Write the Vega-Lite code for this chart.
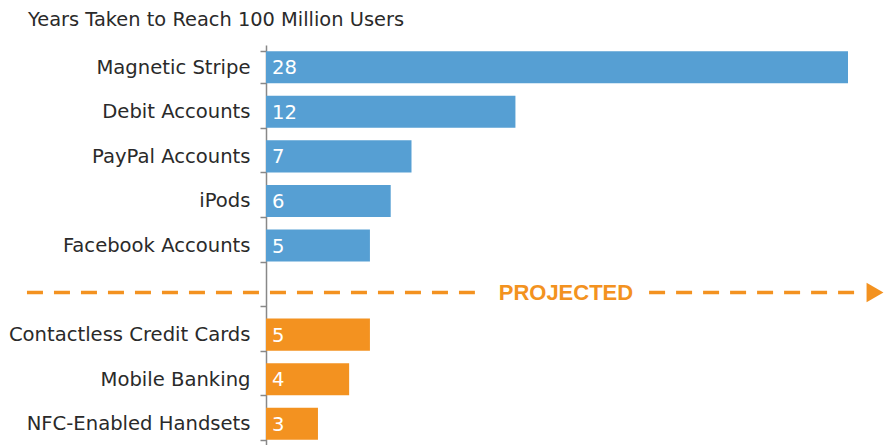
{
  "$schema": "https://vega.github.io/schema/vega-lite/v6.json",
  "width": 582,
  "height": 401,
  "autosize": "none",
  "padding": {"left": 266, "top": 45, "right": 38, "bottom": 0},
  "background": "white",
  "title": {
    "text": "Years Taken to Reach 100 Million Users",
    "anchor": "start",
    "frame": "group",
    "dx": -238,
    "offset": 5,
    "font": "DejaVu Sans",
    "fontSize": 19.4,
    "fontWeight": "normal",
    "color": "#2a2a2a"
  },
  "config": {
    "view": {"stroke": null},
    "font": "DejaVu Sans"
  },
  "encoding": {
    "y": {
      "field": "name",
      "type": "nominal",
      "scale": {
        "domain": ["Magnetic Stripe", "Debit Accounts", "PayPal Accounts", "iPods", "Facebook Accounts", " ", "Contactless Credit Cards", "Mobile Banking", "NFC-Enabled Handsets"],
        "paddingInner": 0.28,
        "paddingOuter": 0.14
      },
      "axis": {
        "title": null,
        "tickBand": "extent",
        "domainColor": "#888888",
        "domainWidth": 1.5,
        "tickColor": "#888888",
        "tickWidth": 1.5,
        "tickSize": 6,
        "labelFont": "DejaVu Sans",
        "labelFontSize": 19.6,
        "labelColor": "#2a2a2a",
        "labelPadding": 10,
        "labelLimit": 400
      }
    }
  },
  "layer": [
    {
      "data": {"name": "main", "values": [
        {"name": "Magnetic Stripe", "value": 28, "label": "28", "group": "actual"},
        {"name": "Debit Accounts", "value": 12, "label": "12", "group": "actual"},
        {"name": "PayPal Accounts", "value": 7, "label": "7", "group": "actual"},
        {"name": "iPods", "value": 6, "label": "6", "group": "actual"},
        {"name": "Facebook Accounts", "value": 5, "label": "5", "group": "actual"},
        {"name": "Contactless Credit Cards", "value": 5, "label": "5", "group": "projected"},
        {"name": "Mobile Banking", "value": 4, "label": "4", "group": "projected"},
        {"name": "NFC-Enabled Handsets", "value": 2.5, "label": "3", "group": "projected"}
      ]},
      "layer": [
        {
          "mark": {"type": "bar"},
          "encoding": {
            "x": {"field": "value", "type": "quantitative", "scale": {"domain": [0, 28], "nice": false}, "axis": null},
            "color": {"field": "group", "type": "nominal", "scale": {"domain": ["actual", "projected"], "range": ["#569FD3", "#F39220"]}, "legend": null}
          }
        },
        {
          "mark": {"type": "text", "align": "left", "baseline": "middle", "dx": 6, "dy": 1, "fontSize": 19.6, "font": "DejaVu Sans", "color": "white"},
          "encoding": {
            "x": {"datum": 0, "type": "quantitative"},
            "text": {"field": "label"}
          }
        }
      ]
    },
    {
      "data": {"values": [{"x": -11.5, "x2": 10.05}, {"x": 18.43, "x2": 28.43}]},
      "mark": {"type": "rule", "color": "#F39220", "strokeWidth": 3.5, "strokeDash": [16, 11], "yOffset": 2.5},
      "encoding": {
        "x": {"field": "x", "type": "quantitative"},
        "x2": {"field": "x2"},
        "y": {"datum": " "}
      }
    },
    {
      "data": {"values": [{"x": 14.43, "label": "PROJECTED"}]},
      "mark": {"type": "text", "color": "#F39220", "font": "Liberation Sans", "fontSize": 22, "fontWeight": "bold", "baseline": "middle", "yOffset": 2.5},
      "encoding": {
        "x": {"field": "x", "type": "quantitative"},
        "y": {"datum": " "},
        "text": {"field": "label"}
      }
    },
    {
      "data": {"values": [{"x": 29.3}]},
      "mark": {"type": "point", "shape": "triangle-right", "filled": true, "color": "#F39220", "size": 380, "opacity": 1, "yOffset": 2.5},
      "encoding": {
        "x": {"field": "x", "type": "quantitative"},
        "y": {"datum": " "}
      }
    }
  ]
}
